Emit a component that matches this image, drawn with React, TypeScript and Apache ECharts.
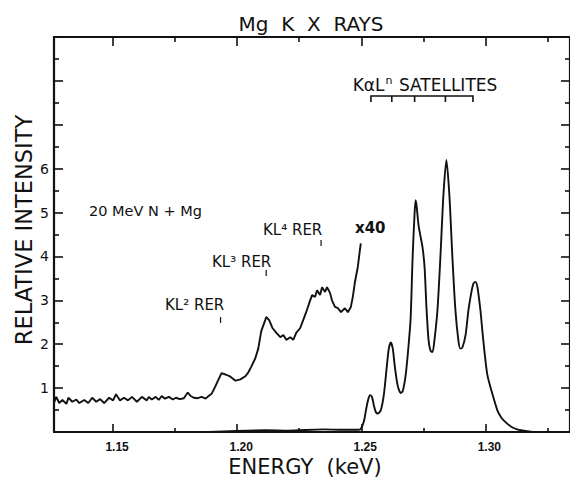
import { useEffect, useRef } from "react";
import * as echarts from "echarts";

const FONT = "'DejaVu Sans', 'Liberation Sans', sans-serif";
const INK = "#111111";

// Axis ticks
const xMajorTicks = [1.15, 1.2, 1.25, 1.3];
const xMinorTicks = [1.175, 1.225, 1.275, 1.325];
const yLabelledTicks = [1, 2, 3, 4, 5, 6];

// Spectrum magnified x40 (RER region), [energy keV, relative intensity]
const x40Spectrum: [number, number][] = [
  [1.1263, 0.68], [1.1271, 0.8], [1.1283, 0.66], [1.1296, 0.73], [1.1312, 0.64],
  [1.132, 0.78], [1.1336, 0.69], [1.1352, 0.74], [1.1364, 0.66], [1.1384, 0.73],
  [1.14, 0.66], [1.1416, 0.78], [1.1432, 0.69], [1.1448, 0.75], [1.1464, 0.66],
  [1.1484, 0.78], [1.15, 0.72], [1.1512, 0.86], [1.1528, 0.72], [1.1544, 0.78],
  [1.156, 0.72], [1.1576, 0.8], [1.1596, 0.69], [1.1616, 0.8], [1.1636, 0.72],
  [1.1644, 0.8], [1.1656, 0.74], [1.1672, 0.8], [1.1684, 0.73], [1.1696, 0.82],
  [1.1709, 0.76], [1.1725, 0.8], [1.1741, 0.74], [1.1753, 0.78], [1.1769, 0.75],
  [1.1785, 0.77], [1.1801, 0.9], [1.1813, 0.82], [1.1825, 0.78], [1.1841, 0.77],
  [1.1857, 0.8], [1.1873, 0.76], [1.1885, 0.82], [1.1897, 0.87], [1.1913, 1.05],
  [1.1925, 1.2], [1.1937, 1.34], [1.1953, 1.31], [1.1973, 1.26], [1.1993, 1.17],
  [1.2013, 1.2], [1.2033, 1.27], [1.2045, 1.36], [1.2057, 1.49], [1.2073, 1.68],
  [1.2085, 1.9], [1.2097, 2.3], [1.2113, 2.55], [1.2117, 2.62], [1.2129, 2.55],
  [1.2142, 2.37], [1.2158, 2.26], [1.2174, 2.16], [1.2186, 2.21], [1.2198, 2.1],
  [1.2214, 2.16], [1.2226, 2.1], [1.2238, 2.26], [1.2254, 2.37], [1.2266, 2.55],
  [1.2278, 2.73], [1.2294, 3.0], [1.2302, 3.12], [1.2314, 3.08], [1.2322, 3.23],
  [1.2334, 3.12], [1.2342, 3.3], [1.2354, 3.19], [1.2362, 3.3], [1.2374, 3.17],
  [1.2382, 3.0], [1.2394, 2.85], [1.2406, 2.82], [1.2418, 2.73], [1.2434, 2.82],
  [1.2446, 2.73], [1.2458, 2.85], [1.2466, 3.08], [1.2474, 3.4], [1.2486, 3.76],
  [1.2498, 4.3],
];

// Unmagnified spectrum (diagram line + KaL^n satellites)
const mainSpectrum: [number, number][] = [
  [1.1885, 0.0], [1.2117, 0.04], [1.2206, 0.03], [1.2346, 0.06], [1.2426, 0.05],
  [1.2486, 0.05], [1.2498, 0.07], [1.2511, 0.25], [1.2519, 0.5], [1.2527, 0.72],
  [1.2535, 0.84], [1.2543, 0.8], [1.2551, 0.6], [1.2559, 0.45], [1.2567, 0.42],
  [1.2579, 0.5], [1.2591, 0.85], [1.2603, 1.5], [1.2611, 1.9], [1.2619, 2.04],
  [1.2627, 1.9], [1.2635, 1.5], [1.2647, 1.05], [1.2659, 0.89], [1.2667, 0.93],
  [1.2679, 1.3], [1.2691, 2.0], [1.2699, 2.6], [1.2707, 4.0], [1.2715, 5.0],
  [1.2719, 5.28], [1.2723, 5.15], [1.2731, 4.7], [1.2739, 4.45], [1.2747, 4.2],
  [1.2755, 3.76], [1.2763, 2.8], [1.2771, 2.1], [1.2779, 1.85], [1.2787, 1.82],
  [1.2795, 2.1], [1.2807, 2.78], [1.2819, 4.0], [1.2831, 5.4], [1.2843, 6.2],
  [1.2855, 5.4], [1.2867, 4.0], [1.2879, 2.8], [1.2891, 2.1], [1.2899, 1.9],
  [1.2907, 1.92], [1.292, 2.2], [1.2932, 2.78], [1.2944, 3.2], [1.2952, 3.38],
  [1.296, 3.42], [1.2968, 3.3], [1.298, 2.78], [1.2988, 2.3], [1.2996, 1.85],
  [1.3008, 1.3], [1.3024, 0.95], [1.3048, 0.5], [1.3064, 0.33], [1.308, 0.23],
  [1.3104, 0.12], [1.3128, 0.06], [1.3168, 0.02], [1.3208, 0.0], [1.3341, 0.0],
];

// Annotations
const rerLabels = ["KL² RER", "KL³ RER", "KL⁴ RER"];
const rerEnergies = [1.1933, 1.2117, 1.2338];
const satelliteEnergies = [1.2539, 1.2623, 1.2715, 1.2839, 1.295];

export default function App() {
  const ref = useRef<HTMLDivElement>(null);

  useEffect(() => {
    document.body.style.margin = "0";
    const chart = echarts.init(ref.current!, null, { renderer: "svg" });
    const lineStyle = { color: INK, width: 1.6 };
    const baseX = {
      type: "value",
      min: 1.1262,
      max: 1.3341,
      splitLine: { show: false },
    };
    const baseY = {
      type: "value",
      min: 0,
      max: 9,
      interval: 1,
      splitLine: { show: false },
      minorSplitLine: { show: false },
    };
    chart.setOption({
      animation: false,
      backgroundColor: "#ffffff",
      grid: { left: 54, right: -3, top: 37, bottom: 48, containLabel: false },
      xAxis: [
        {
          ...baseX,
          position: "bottom",
          axisLine: { show: true, onZero: false, lineStyle: { color: INK, width: 2.2 } },
          axisTick: { show: true, inside: true, length: 8, customValues: xMajorTicks, lineStyle },
          axisLabel: {
            show: true,
            customValues: xMajorTicks,
            formatter: (v: number) => v.toFixed(2),
            margin: 9,
            fontFamily: "'Liberation Sans Narrow', 'Liberation Sans', sans-serif",
            fontWeight: "bold",
            fontSize: 12,
            color: INK,
            padding: [0, 0, 0, 8],
          },
        },
        {
          ...baseX,
          position: "bottom",
          axisLine: { show: false, onZero: false },
          axisTick: { show: true, inside: true, length: 4, customValues: xMinorTicks, lineStyle },
          axisLabel: { show: false },
        },
        {
          ...baseX,
          position: "top",
          axisLine: { show: true, onZero: false, lineStyle: { color: INK, width: 2.2 } },
          axisTick: { show: true, inside: true, length: 9, customValues: xMajorTicks, lineStyle },
          axisLabel: { show: false },
        },
        {
          ...baseX,
          position: "top",
          axisLine: { show: false, onZero: false },
          axisTick: { show: true, inside: true, length: 5, customValues: xMinorTicks, lineStyle },
          axisLabel: { show: false },
        },
      ],
      yAxis: [
        {
          ...baseY,
          position: "left",
          axisLine: { show: true, onZero: false, lineStyle: { color: INK, width: 2.2 } },
          axisTick: { show: true, inside: true, length: 9, lineStyle },
          minorTick: { show: true, splitNumber: 2, length: 5, lineStyle },
          axisLabel: {
            formatter: (v: number) => (yLabelledTicks.includes(v) ? String(v) : ""),
            margin: 5,
            fontFamily: FONT,
            fontSize: 14,
            color: INK,
          },
        },
        {
          ...baseY,
          position: "right",
          axisLine: { show: true, onZero: false, lineStyle: { color: INK, width: 2.2 } },
          axisTick: { show: true, inside: true, length: 9, lineStyle },
          minorTick: { show: true, splitNumber: 2, length: 5, lineStyle },
          axisLabel: { show: false },
        },
      ],
      series: [
        {
          name: "x40",
          type: "line",
          xAxisIndex: 0,
          yAxisIndex: 0,
          data: x40Spectrum,
          showSymbol: false,
          lineStyle: { color: INK, width: 1.9 },
        },
        {
          name: "x1",
          type: "line",
          xAxisIndex: 0,
          yAxisIndex: 0,
          data: mainSpectrum,
          smooth: 0.25,
          showSymbol: false,
          lineStyle: { color: INK, width: 1.9 },
        },
      ],
    });

    const px = (e: number) => chart.convertToPixel({ xAxisIndex: 0 }, e) as number;
    const textStyle = (text: string, size: number, extra: any = {}) => ({
      text,
      fontFamily: FONT,
      fontSize: size,
      fill: INK,
      ...extra,
    });

    const rerPos = [
      { x: 165, y: 305, ty: 317 },
      { x: 212, y: 262, ty: 270 },
      { x: 263, y: 230, ty: 240 },
    ];
    const graphics: any[] = [
      {
        type: "text",
        x: 311,
        y: 24,
        style: textStyle("Mg  K  X  RAYS", 20, { align: "center", verticalAlign: "middle" }),
      },
      {
        type: "text",
        x: 305,
        y: 467,
        style: textStyle("ENERGY  (keV)", 21, { align: "center", verticalAlign: "middle" }),
      },
      {
        type: "text",
        x: 24,
        y: 230,
        rotation: Math.PI / 2,
        style: textStyle("RELATIVE INTENSITY", 22.5, { align: "center", verticalAlign: "middle" }),
      },
      {
        type: "text",
        x: 89,
        y: 211,
        style: textStyle("20 MeV N + Mg", 14.5, { align: "left", verticalAlign: "middle" }),
      },
      {
        type: "text",
        x: 355,
        y: 228,
        style: textStyle("x40", 15, { align: "left", verticalAlign: "middle", fontWeight: "bold" }),
      },
      {
        type: "text",
        x: 425,
        y: 84,
        style: {
          text: "{b|KαL}{s|n}{b| SATELLITES}",
          fill: INK,
          align: "center",
          verticalAlign: "middle",
          rich: {
            b: { fontFamily: FONT, fontSize: 17, fill: INK, verticalAlign: "bottom" },
            s: { fontFamily: FONT, fontSize: 11, fill: INK, padding: [0, 1, 8, 1], verticalAlign: "bottom" },
          },
        },
      },
    ];
    rerLabels.forEach((label, i) => {
      const p = rerPos[i];
      graphics.push({
        type: "text",
        x: p.x,
        y: p.y,
        style: textStyle(label, 15, { align: "left", verticalAlign: "middle" }),
      });
      const tx = px(rerEnergies[i]);
      graphics.push({
        type: "line",
        shape: { x1: tx, y1: p.ty, x2: tx, y2: p.ty + 6 },
        style: { stroke: INK, lineWidth: 1.2 },
      });
    });
    const sx = satelliteEnergies.map(px);
    const bTop = 96;
    const bBot = 102;
    graphics.push({
      type: "polyline",
      shape: {
        points: [
          [sx[0], bBot],
          [sx[0], bTop],
          [sx[sx.length - 1], bTop],
          [sx[sx.length - 1], bBot],
        ],
      },
      style: { stroke: INK, lineWidth: 1.6, fill: "none" },
    });
    sx.slice(1, -1).forEach((x) => {
      graphics.push({
        type: "line",
        shape: { x1: x, y1: bTop, x2: x, y2: bBot },
        style: { stroke: INK, lineWidth: 1.6 },
      });
    });
    chart.setOption({ graphic: graphics });

    return () => chart.dispose();
  }, []);

  return <div ref={ref} style={{ width: 570, height: 480 }} />;
}
